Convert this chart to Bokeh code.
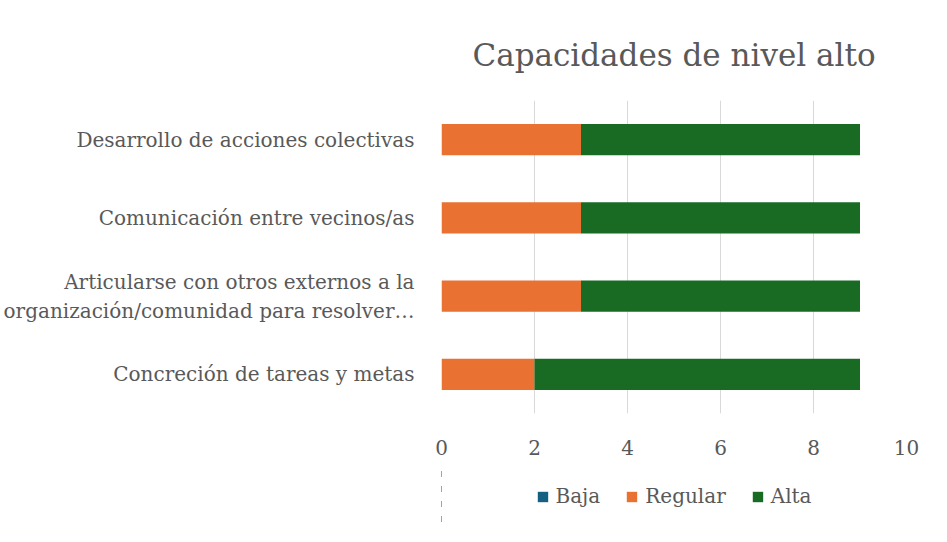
import numpy as np
from bokeh.plotting import figure
from bokeh.models import FixedTicker, Legend, LegendItem, ColumnDataSource, Title
from bokeh.layouts import column
from bokeh.embed import file_html
from bokeh.resources import INLINE

categories = [
    "Concreción de tareas y metas",
    "Articularse con otros externos a la\norganización/comunidad para resolver…",
    "Comunicación entre vecinos/as",
    "Desarrollo de acciones colectivas",
]
series = ["Baja", "Regular", "Alta"]
baja = [0, 0, 0, 0]
regular = [2, 3, 3, 3]
alta = [7, 6, 6, 6]
colors = ["#156082", "#E97132", "#196B24"]
x_ticks = [0, 2, 4, 6, 8, 10]

FONT = "DejaVu Serif"
TXT = "#595959"

W = 931

p = figure(width=W, height=466, y_range=categories, x_range=(0, 10), title=None,
           output_backend="svg", toolbar_location=None,
           min_border_left=441, min_border_right=25, min_border_top=10, min_border_bottom=53)

vals = np.array([baja, regular, alta], dtype=float)
rights = np.cumsum(vals, axis=0)
lefts = rights - vals

# legend strip: a second figure holding only the legend (its bars fall outside its range)
lg = figure(width=W, height=60, y_range=categories, x_range=(100, 200), title=None,
            output_backend="svg", toolbar_location=None,
            min_border_left=0, min_border_right=0, min_border_top=0, min_border_bottom=0)
lg.axis.visible = False
lg.grid.grid_line_color = None
lg.outline_line_color = None

items = []
for i, name in enumerate(series):
    src = ColumnDataSource(dict(cat=categories, left=lefts[i], right=rights[i]))
    p.hbar(y="cat", left="left", right="right", height=0.4, source=src,
           fill_color=colors[i], line_color=None)
    r2 = lg.hbar(y="cat", left="left", right="right", height=0.4, source=src,
                 fill_color=colors[i], line_color=None)
    items.append(LegendItem(label=name, renderers=[r2]))

p.add_layout(Title(text="Capacidades de nivel alto", align="center", text_font=FONT,
                   text_font_size="31px", text_font_style="normal", text_color=TXT,
                   standoff=55), "above")
p.add_layout(Title(text=" ", text_font_size="4px", standoff=0), "above")

p.xaxis.ticker = FixedTicker(ticks=x_ticks)
p.xaxis.axis_line_color = None
p.xaxis.major_tick_line_color = None
p.xaxis.minor_tick_line_color = None
p.xaxis.major_label_text_font = FONT
p.xaxis.major_label_text_font_size = "20px"
p.xaxis.major_label_text_color = TXT
p.xaxis.major_label_standoff = 20

p.yaxis.axis_line_color = None
p.yaxis.major_tick_line_color = None
p.yaxis.minor_tick_line_color = None
p.yaxis.major_label_text_font = FONT
p.yaxis.major_label_text_font_size = "20px"
p.yaxis.major_label_text_color = TXT
p.yaxis.major_label_standoff = 21

p.xgrid.grid_line_color = "#D9D9D9"
p.xgrid.ticker = FixedTicker(ticks=x_ticks)
p.ygrid.grid_line_color = None
p.outline_line_color = None

legend = Legend(items=items, orientation="horizontal", location="center",
                label_text_font=FONT, label_text_font_size="20px", label_text_color=TXT,
                glyph_width=13, glyph_height=13, spacing=25, label_standoff=7,
                border_line_color=None, background_fill_alpha=0, margin=0, padding=5)
lg.add_layout(legend, "center")

open("out.html", "w").write(file_html(column(p, lg), INLINE))
